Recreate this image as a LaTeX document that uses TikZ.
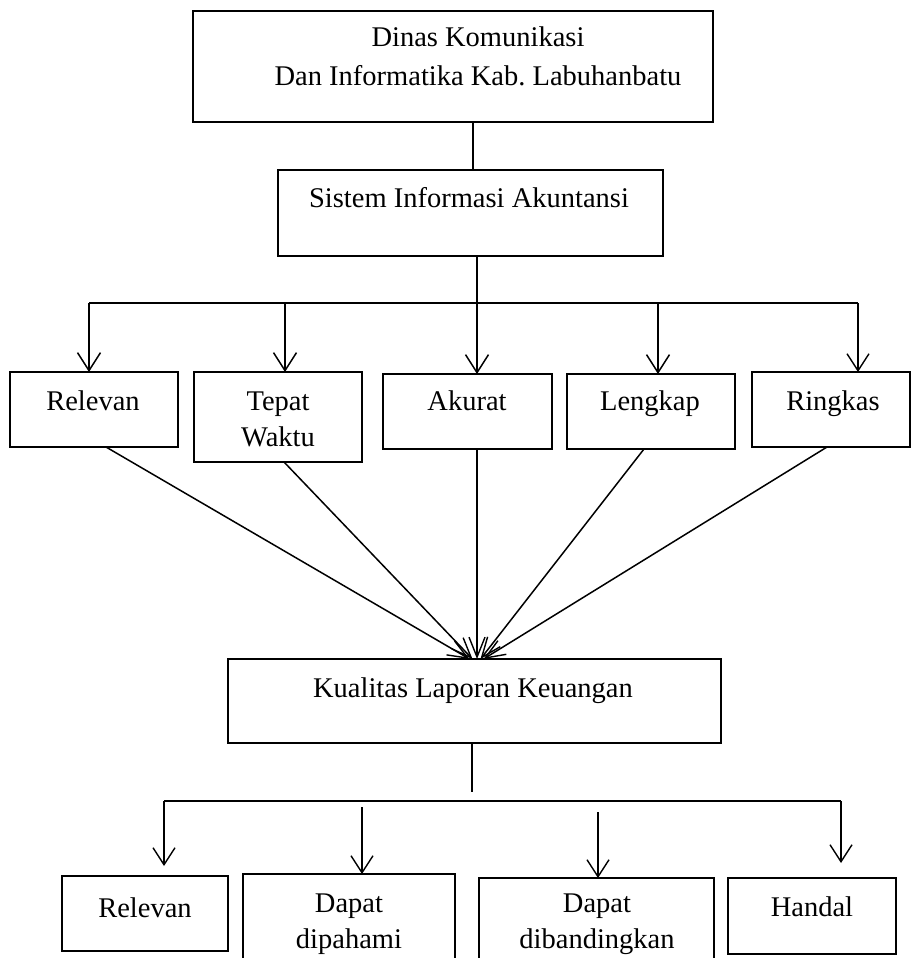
\documentclass[tikz,border=0pt]{standalone}
\usepackage{fontspec}
\setmainfont{Liberation Serif}
\usetikzlibrary{arrows.meta,calc}
\frenchspacing
\tikzset{
  boxst/.style={draw, line width=1.3pt, inner sep=0pt, outer sep=0pt, anchor=north west},
  lbl/.style={anchor=base, inner sep=0pt, font=\fontsize{28.5pt}{34pt}\selectfont},
  thickarr/.style={line width=2.4pt, -{Straight Barb[length=18pt,width=23pt,line width=1.5pt]}},
  thinarr/.style={line width=1.4pt, -{Straight Barb[length=17pt,width=22pt,line width=1.4pt]}},
  conv/.style={line width=1.5pt, -{Straight Barb[length=20pt,width=16pt,line width=1.4pt]}},
  convthick/.style={line width=2.7pt, -{Straight Barb[length=20pt,width=16pt,line width=1.4pt]}},
  plain/.style={line width=1.4pt},
  hline/.style={line width=1.7pt},
}
\begin{document}
\begin{tikzpicture}[x=1pt,y=-1pt]
\useasboundingbox (0,0) rectangle (911,958);
% boxes
\node[boxst, minimum width=520pt, minimum height=111pt] (dinas) at (193,11) {};
\node[boxst, minimum width=385pt, minimum height=86pt] (sia) at (278,170) {};
\node[boxst, minimum width=168pt, minimum height=75pt] (rel1) at (10,372) {};
\node[boxst, minimum width=168pt, minimum height=90pt] (tep) at (194,372) {};
\node[boxst, minimum width=169pt, minimum height=75pt] (aku) at (383,374) {};
\node[boxst, minimum width=168pt, minimum height=75pt] (len) at (567,374) {};
\node[boxst, minimum width=158pt, minimum height=75pt] (rin) at (752,372) {};
\node[boxst, minimum width=493pt, minimum height=84pt] (kual) at (228,659) {};
\node[boxst, minimum width=166pt, minimum height=75pt] (rel2) at (62,876) {};
\node[boxst, minimum width=212pt, minimum height=90pt] (pah) at (243,874) {};
\node[boxst, minimum width=235pt, minimum height=90pt] (ban) at (479,878) {};
\node[boxst, minimum width=168pt, minimum height=76pt] (han) at (728,878) {};
% texts
\node[lbl] (t-dinas1) at (478,47) {Dinas Komunikasi};
\node[lbl] (t-dinas2) at (478,85) {Dan Informatika Kab. Labuhanbatu};
\node[lbl] (t-sia) at (469,207) {Sistem Informasi Akuntansi};
\node[lbl] (t-rel1) at (93,410) {Relevan};
\node[lbl] (t-tep1) at (278,410) {Tepat};
\node[lbl] (t-tep2) at (278,446) {Waktu};
\node[lbl] (t-aku) at (467,410) {Akurat};
\node[lbl] (t-len) at (650,410) {Lengkap};
\node[lbl] (t-rin) at (833,410) {Ringkas};
\node[lbl] (t-kual) at (473,697) {Kualitas Laporan Keuangan};
\node[lbl] (t-rel2) at (145,917) {Relevan};
\node[lbl] (t-pah1) at (349,912) {Dapat};
\node[lbl] (t-pah2) at (349,948) {dipahami};
\node[lbl] (t-ban1) at (597,912) {Dapat};
\node[lbl] (t-ban2) at (597,948) {dibandingkan};
\node[lbl] (t-han) at (812,916) {Handal};
% junction coordinates
\coordinate (x0) at (473,0);
\coordinate (h1) at (89,303);
\coordinate (h2) at (285,303);
\coordinate (h3) at (477,303);
\coordinate (h4) at (658,303);
\coordinate (h5) at (858,303);
\coordinate (k0) at (472,792);
\coordinate (b1) at (164,801);
\coordinate (b2) at (362,807);
\coordinate (b3) at (598,812);
\coordinate (b4) at (841,801);
% top connectors
\draw[plain] (dinas.south -| x0) -- (sia.north -| x0);
\draw[plain] (sia.south -| h3) -- (h3);
\draw[hline] (h1) -- (h5);
\draw[thickarr] (h1) -- (h1 |- rel1.north);
\draw[thickarr] (h2) -- (h2 |- tep.north);
\draw[thickarr] (h3) -- (h3 |- aku.north);
\draw[thickarr] (h4) -- (h4 |- len.north);
\draw[thinarr] (h5) -- (h5 |- rin.north);
% converging
\draw[conv] ([xshift=12pt]rel1.south) -- ([xshift=-5pt]kual.north);
\draw[conv] ([xshift=6pt]tep.south) -- ([xshift=-2pt]kual.north);
\draw[convthick] (aku.south -| h3) -- (kual.north -| h3);
\draw[conv] ([xshift=-7pt]len.south) -- ([xshift=6pt]kual.north);
\draw[conv] ([xshift=-4pt]rin.south) -- ([xshift=9pt]kual.north);
% bottom connectors
\draw[plain] (kual.south -| k0) -- (k0);
\draw[plain] (b1) -- (b4);
\draw[thinarr] (b1) -- ([yshift=10pt]b1 |- rel2.north);
\draw[thinarr] (b2) -- (b2 |- pah.north);
\draw[thinarr] (b3) -- (b3 |- ban.north);
\draw[thinarr] (b4) -- ([yshift=15pt]b4 |- han.north);
\end{tikzpicture}
\end{document}
